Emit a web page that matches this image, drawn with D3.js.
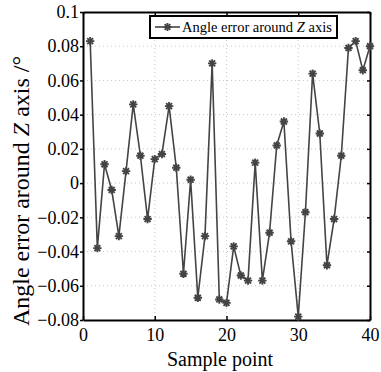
<!DOCTYPE html>
<html>
<head>
<meta charset="utf-8">
<script src="https://cdn.jsdelivr.net/npm/d3@7"></script>
<style>
  body { margin: 0; background: #fff; }
  text { font-family: "Liberation Serif", "Times New Roman", serif; fill: #000; }
</style>
</head>
<body>
<div class="line-chart"></div>
<script>
// data
var samples = d3.range(1, 41)
var angleErr = [0.083, -0.038, 0.011, -0.004, -0.031, 0.007, 0.046, 0.016, -0.021, 0.014,
                0.017, 0.045, 0.009, -0.053, 0.002, -0.067, -0.031, 0.070, -0.068, -0.070,
                -0.037, -0.054, -0.057, 0.012, -0.057, -0.029, 0.022, 0.036, -0.034, -0.078,
                -0.017, 0.064, 0.029, -0.048, -0.021, 0.016, 0.079, 0.083, 0.066, 0.080]
var xTicks = [0, 10, 20, 30, 40]
var yTicks = [0.1, 0.08, 0.06, 0.04, 0.02, 0, -0.02, -0.04, -0.06, -0.08]

// set the dimensions and margins of the graph
var margin = {top: 12, right: 11, bottom: 52, left: 83},
    width = 381 - margin.left - margin.right,
    height = 372 - margin.top - margin.bottom

var svg = d3.select(".line-chart")
  .append("svg")
    .attr("width", 381)
    .attr("height", 372)
  .append("g")
    .attr("transform", "translate(" + margin.left + "," + margin.top + ")")

var x = d3.scaleLinear().domain([0, 40]).range([0, width])
var y = d3.scaleLinear().domain([-0.08, 0.1]).range([height, 0])

var fmt = d3.format("~g")

// dotted grid
svg.append("g").selectAll("line")
  .data(xTicks.slice(1, -1))
  .enter().append("line")
    .attr("x1", function(d) { return x(d) }).attr("x2", function(d) { return x(d) })
    .attr("y1", 0).attr("y2", height)
    .attr("stroke", "#c8c8c8").attr("stroke-dasharray", "1,3")

svg.append("g").selectAll("line")
  .data(yTicks.slice(1, -1))
  .enter().append("line")
    .attr("y1", function(d) { return y(d) }).attr("y2", function(d) { return y(d) })
    .attr("x1", 0).attr("x2", width)
    .attr("stroke", "#c8c8c8").attr("stroke-dasharray", "1,3")

// axes: bottom/top/right ticks inward, left ticks outward
var bottom = svg.append("g")
  .attr("transform", "translate(0," + height + ")")
  .call(d3.axisBottom(x).tickValues(xTicks).tickFormat(fmt).tickSizeInner(-4).tickSizeOuter(0).tickPadding(8))
var top = svg.append("g")
  .call(d3.axisTop(x).tickValues(xTicks).tickFormat("").tickSizeInner(-3).tickSizeOuter(0))
var left = svg.append("g")
  .call(d3.axisLeft(y).tickValues(yTicks).tickFormat(fmt).tickSizeInner(3).tickSizeOuter(0).tickPadding(1))
var right = svg.append("g")
  .attr("transform", "translate(" + width + ",0)")
  .call(d3.axisRight(y).tickValues(yTicks).tickFormat("").tickSizeInner(-3).tickSizeOuter(0))

svg.selectAll(".domain").attr("stroke", "#000").attr("stroke-width", 2)
svg.selectAll(".tick line").attr("stroke", "#000").attr("stroke-width", 1.5)
svg.selectAll(".tick text")
  .style("font-family", "'Liberation Serif', serif")
  .style("font-size", "18px")
  .attr("fill", "#000")
bottom.selectAll(".tick text").attr("dy", "0.71em")

// the line
var line = d3.line()
  .x(function(d, i) { return x(samples[i]) })
  .y(function(d) { return y(d) })

svg.append("path")
  .datum(angleErr)
  .attr("fill", "none")
  .attr("stroke", "#444")
  .attr("stroke-width", 1.6)
  .attr("d", line)

// matlab style '*' marker
function star(r) {
  var p = d3.path()
  for (var k = 0; k < 4; k++) {
    var a = k * Math.PI / 4
    p.moveTo(-r * Math.cos(a), -r * Math.sin(a))
    p.lineTo(r * Math.cos(a), r * Math.sin(a))
  }
  return p.toString()
}

svg.selectAll("mymark")
  .data(angleErr)
  .enter()
  .append("path")
    .attr("d", star(4.2))
    .attr("transform", function(d, i) { return "translate(" + x(samples[i]) + "," + y(d) + ")" })
    .attr("stroke", "#444")
    .attr("stroke-width", 1.9)
    .attr("fill", "none")

// axis titles
svg.append("text")
  .attr("x", 220 - margin.left)
  .attr("y", height + 46)
  .style("text-anchor", "middle")
  .style("font-size", "20px")
  .text("Sample point")

var yt = svg.append("text")
  .attr("transform", "translate(" + (29 - margin.left) + "," + (191 - margin.top) + ") rotate(-90)")
  .style("text-anchor", "middle")
  .style("font-size", "24px")
yt.append("tspan").text("Angle error around ")
yt.append("tspan").style("font-style", "italic").text("Z")
yt.append("tspan").text(" axis /°")

// legend
var lg = svg.append("g").attr("transform", "translate(" + (150 - margin.left) + "," + (16 - margin.top) + ")")
lg.append("rect")
  .attr("width", 187).attr("height", 22)
  .attr("fill", "#fff").attr("stroke", "#000").attr("stroke-width", 2)
lg.append("line")
  .attr("x1", 5).attr("x2", 30).attr("y1", 11).attr("y2", 11)
  .attr("stroke", "#444").attr("stroke-width", 1.6)
lg.append("path")
  .attr("d", star(4))
  .attr("transform", "translate(17.5,11)")
  .attr("stroke", "#444").attr("stroke-width", 1.8)
var lt = lg.append("text")
  .attr("x", 32).attr("y", 16)
  .style("font-size", "14.5px")
lt.append("tspan").text("Angle error around ")
lt.append("tspan").style("font-style", "italic").text("Z")
lt.append("tspan").text(" axis")
</script>
</body>
</html>
